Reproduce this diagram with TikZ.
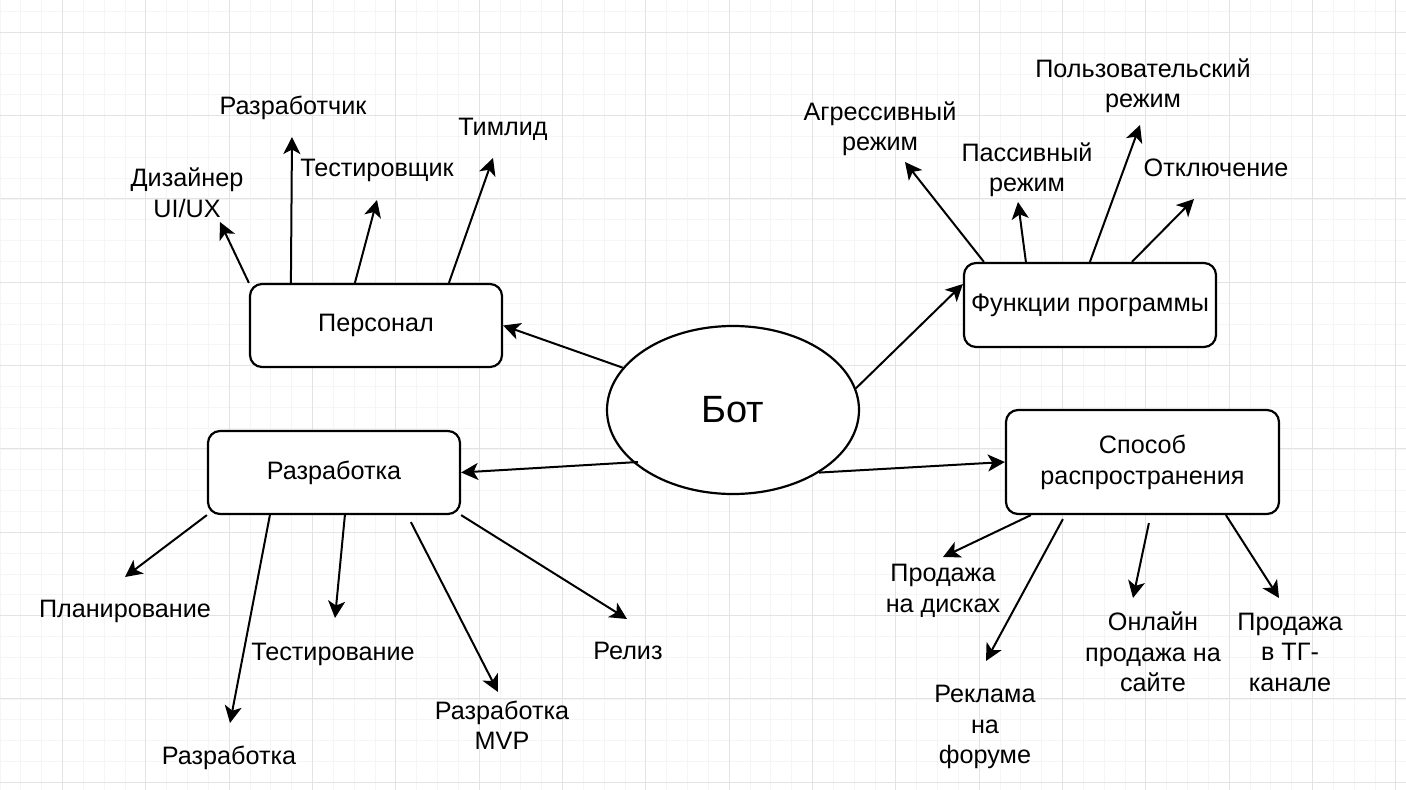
\documentclass[tikz,border=0pt]{standalone}
\usepackage{fontspec}
\setmainfont{Liberation Sans}
\usetikzlibrary{arrows.meta,calc,shapes.geometric}
\begin{document}
\begin{tikzpicture}[x=1pt,y=-1pt,
  minorgrid/.style={draw=black!4, line width=1pt},
  majorgrid/.style={draw=black!11, line width=1pt},
  box/.style={draw, line width=2.2pt, rounded corners=12pt, fill=white, inner sep=0pt, align=center, font=\fontsize{25.2}{31}\selectfont},
  oval/.style={draw, ellipse, line width=2.2pt, fill=white, inner sep=0pt, font=\fontsize{38}{44}\selectfont},
  lbl/.style={inner sep=0pt, align=center, font=\fontsize{25.2}{30.5}\selectfont},
  arr/.style={line width=2pt, -{Stealth[length=17pt,width=17pt,inset=4.5pt]}}]
\fill[white] (0,0) rectangle (1406,790);
\useasboundingbox (0,0) rectangle (1406,790);
% grid
\foreach \i in {0,...,67} {\draw[minorgrid] (\i*20.8333,0) -- (\i*20.8333,790);}
\foreach \j in {0,...,37} {\draw[minorgrid] (0,11.5+\j*20.8333) -- (1406,11.5+\j*20.8333);}
\foreach \i in {0,...,16} {\draw[majorgrid] (62.5+\i*83.3333,0) -- (62.5+\i*83.3333,790);}
\foreach \j in {0,...,9} {\draw[majorgrid] (0,32.3+\j*83.3333) -- (1406,32.3+\j*83.3333);}

% main nodes
\node[box, minimum width=252pt, minimum height=83pt] (pers) at (376,325.5) {Персонал};
\node[box, minimum width=252pt, minimum height=83pt] (dev) at (334,472.5) {Разработка};
\node[box, minimum width=252pt, minimum height=84pt] (func) at (1090,305) {Функции программы};
\node[box, minimum width=273pt, minimum height=104pt] (sposob) at (1142.5,462) {Способ\\распространения};
\node[oval, minimum width=252pt, minimum height=168pt] (bot) at (733,410) {Бот};

% labels
\node[lbl] (lDes) at (187,193) {Дизайнер\\UI/UX};
\node[lbl] (lDevr) at (293,108) {Разработчик};
\node[lbl] (lTester) at (377,170) {Тестировщик};
\node[lbl] (lLead) at (503,129) {Тимлид};

\node[lbl] (lAggr) at (880,129) {Агрессивный\\режим};
\node[lbl] (lPass) at (1027,170) {Пассивный\\режим};
\node[lbl] (lUser) at (1143,86) {Пользовательский\\режим};
\node[lbl] (lOff) at (1216,168) {Отключение};

\node[lbl] (lPlan) at (125,611) {Планирование};
\node[lbl] (lRazr) at (229,758) {Разработка};
\node[lbl] (lTest) at (333,654) {Тестирование};
\node[lbl] (lMVP) at (502,725.5) {Разработка\\MVP};
\node[lbl] (lRel) at (628,651) {Релиз};

\node[lbl] (lDisk) at (943,591) {Продажа\\на дисках};
\node[lbl] (lAds) at (985,727) {Реклама\\на\\форуме};
\node[lbl] (lOnline) at (1153,652) {Онлайн\\продажа на\\сайте};
\node[lbl] (lTG) at (1290,652) {Продажа\\в ТГ-\\канале};

% arrow tips (free ends)
\coordinate (tDes) at (220,222);
\coordinate (tDevr) at (292,137);
\coordinate (tTester) at (377,200);
\coordinate (tLead) at (493,158);
\coordinate (tAggr) at (905,162);
\coordinate (tPass) at (1018,202);
\coordinate (tUser) at (1140,125);
\coordinate (tOff) at (1194,199);
\coordinate (tPlan) at (125,577);
\coordinate (tRazr) at (230,723);
\coordinate (tTest) at (335,618);
\coordinate (tMVP) at (498,692);
\coordinate (tRel) at (627,619);
\coordinate (tDisk) at (943,557);
\coordinate (tAds) at (986,661);
\coordinate (tOnline) at (1133,598);
\coordinate (tTG) at (1279,598);

% connectors from Бот
\draw[arr] (bot.159) -- (pers.east);
\draw[arr] ($(bot.center)+(-95,52)$) -- (dev.east);
\draw[arr] (bot.10) -- ($(func.west)+(0,-21)$);
\draw[arr] (bot.-36) -- (sposob.west);

% Персонал
\draw[arr] (pers.north west) -- (tDes);
\draw[arr] ($(pers.north west)+(42,0)$) -- (tDevr);
\draw[arr] ($(pers.north west)+(106,0)$) -- (tTester);
\draw[arr] ($(pers.north west)+(200,0)$) -- (tLead);

% Функции программы
\draw[arr] ($(func.north west)+(21,0)$) -- (tAggr);
\draw[arr] ($(func.north west)+(63,0)$) -- (tPass);
\draw[arr] ($(func.north west)+(127,0)$) -- (tUser);
\draw[arr] ($(func.north west)+(169,0)$) -- (tOff);

% Разработка
\draw[arr] (dev.south west) -- (tPlan);
\draw[arr] ($(dev.south west)+(63,0)$) -- (tRazr);
\draw[arr] ($(dev.south west)+(138,0)$) -- (tTest);
\draw[arr] ($(dev.south west)+(204,7)$) -- (tMVP);
\draw[arr] (dev.south east) -- (tRel);

% Способ распространения
\draw[arr] ($(sposob.south west)+(26,0)$) -- (tDisk);
\draw[arr] ($(sposob.south west)+(58,4)$) -- (tAds);
\draw[arr] ($(sposob.south west)+(144,8)$) -- (tOnline);
\draw[arr] ($(sposob.south west)+(221,0)$) -- (tTG);
\end{tikzpicture}
\end{document}
